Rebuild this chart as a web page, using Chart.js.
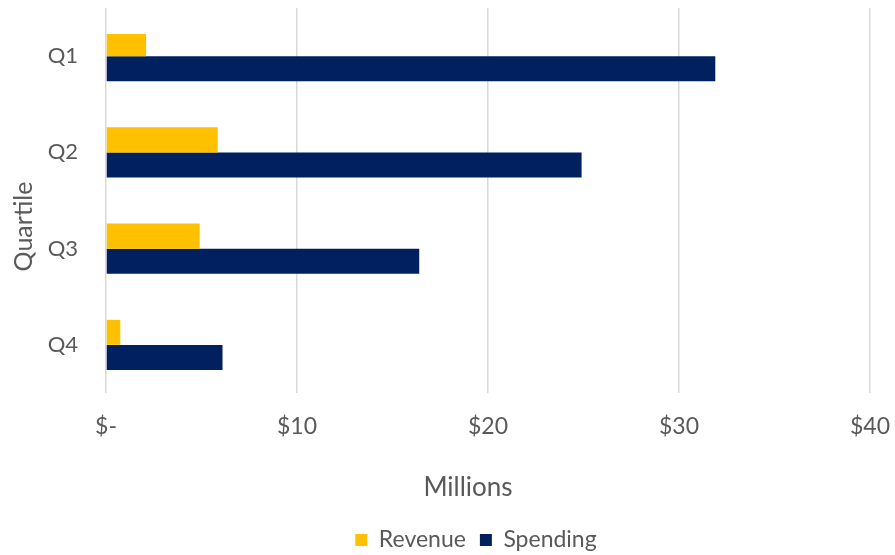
<!DOCTYPE html>
<html>
<head>
<meta charset="utf-8">
<script src="https://cdn.jsdelivr.net/npm/chart.js@4.4.0/dist/chart.umd.min.js"></script>
<style>
  html, body { margin: 0; padding: 0; background: #ffffff; }
  #wrap { width: 895px; height: 555px; position: relative; }
</style>
</head>
<body>
<div id="wrap"><canvas id="c"></canvas></div>
<script>
const categories = ['Q1', 'Q2', 'Q3', 'Q4'];
const revenue = [2.1, 5.85, 4.9, 0.75];
const spending = [31.9, 24.9, 16.4, 6.1];
const xTicks = [0, 10, 20, 30, 40];
const xTickLabels = ['$-', '$10', '$20', '$30', '$40'];

const FONT = 'Lato, "Open Sans", sans-serif';
const TXT = '#595959';
const LEGEND_FONT = 23;
const LEGEND_PAD = 14;

const placePlugin = {
  id: 'placeTitles',
  afterLayout(chart) {
    const lg = chart.legend;
    if (lg) {
      const dx = 41;
      lg.left += dx; lg.right += dx;
      const h = lg.bottom - lg.top;
      lg.top = 540 - LEGEND_PAD - LEGEND_FONT / 2;
      lg.bottom = lg.top + h;
    }
    const xs = chart.scales.x;
    if (xs) { xs.left -= 40; }
    const ys = chart.scales.y;
    if (ys) { ys.top += 26; ys.bottom += 26; }
  }
};

new Chart(document.getElementById('c'), {
  type: 'bar',
  data: {
    labels: categories,
    datasets: [
      { label: 'Revenue', data: revenue, backgroundColor: '#FFC000', borderWidth: 0 },
      { label: 'Spending', data: spending, backgroundColor: '#002060', borderWidth: 0 }
    ]
  },
  options: {
    indexAxis: 'y',
    responsive: true,
    maintainAspectRatio: false,
    animation: false,
    categoryPercentage: 0.52,
    barPercentage: 1.0,
    layout: { padding: { top: 8, right: 25, left: 0, bottom: 0 } },
    scales: {
      x: {
        min: 0, max: 40,
        afterBuildTicks(scale) { scale.ticks = xTicks.map(v => ({ value: v })); },
        afterFit(scale) { scale.paddingLeft = 0; scale.paddingRight = 0; scale.height = 115; },
        grid: { color: '#d9d9d9', lineWidth: 1.5, drawTicks: false },
        border: { display: false },
        ticks: {
          padding: 20,
          color: TXT,
          font: { family: FONT, size: 23 },
          callback(v) { const i = xTicks.indexOf(v); return i >= 0 ? xTickLabels[i] : ''; }
        },
        title: {
          display: true, text: 'Millions', color: TXT,
          font: { family: FONT, size: 26 },
          padding: { top: 0, bottom: 5 }
        }
      },
      y: {
        afterFit(scale) { scale.paddingTop = 0; scale.paddingBottom = 0; scale.width = 106; },
        grid: { display: false, drawTicks: false },
        border: { display: false },
        ticks: { padding: 28, color: TXT, font: { family: FONT, size: 22 } },
        title: {
          display: true, text: 'Quartile', color: TXT,
          font: { family: FONT, size: 25 },
          padding: { top: 9, bottom: 0 }
        }
      }
    },
    plugins: {
      legend: {
        position: 'bottom',
        labels: {
          color: TXT, font: { family: FONT, size: LEGEND_FONT },
          boxWidth: 12, boxHeight: 12, padding: LEGEND_PAD
        }
      },
      tooltip: { enabled: false }
    }
  },
  plugins: [placePlugin]
});
</script>
</body>
</html>
